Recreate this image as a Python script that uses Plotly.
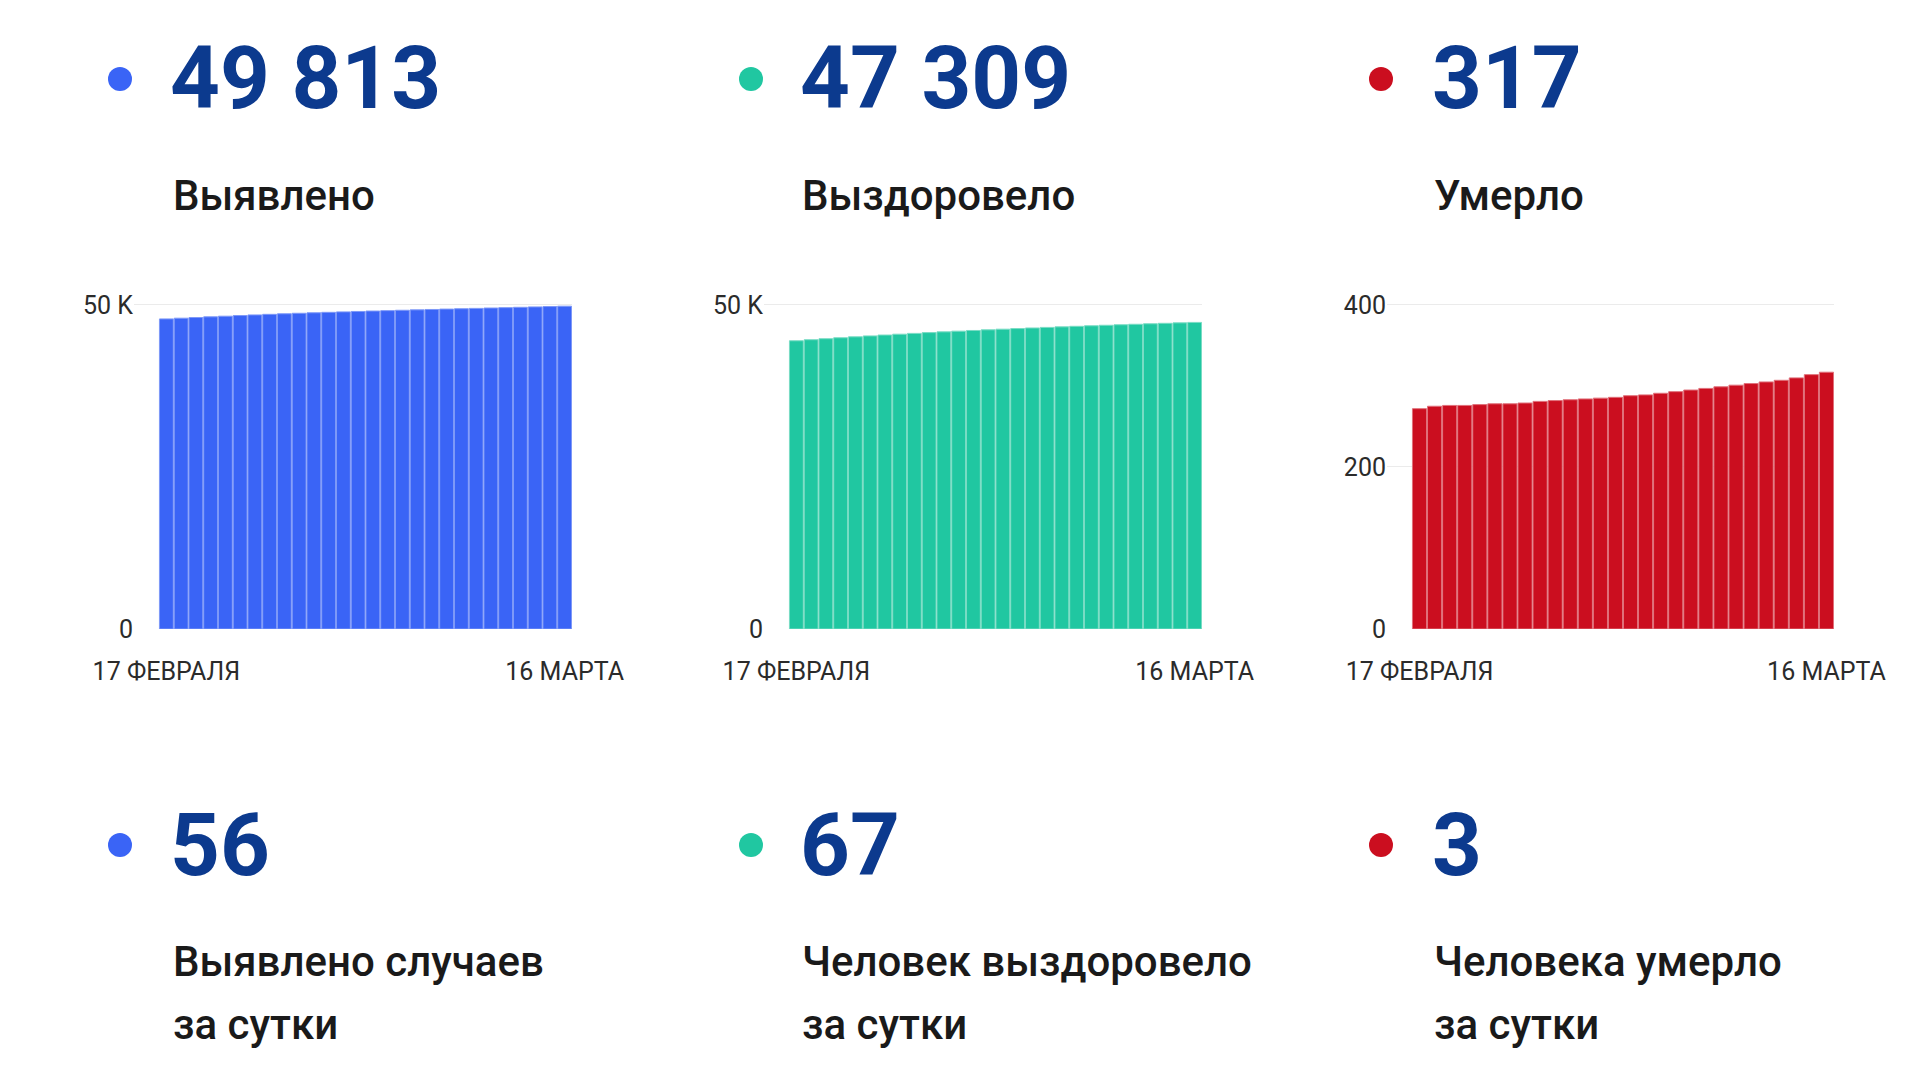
import plotly.graph_objects as go

W, H = 1920, 1080

# ---- data ----
dates = ['17.02', '18.02', '19.02', '20.02', '21.02', '22.02', '23.02', '24.02',
         '25.02', '26.02', '27.02', '28.02', '01.03', '02.03', '03.03', '04.03',
         '05.03', '06.03', '07.03', '08.03', '09.03', '10.03', '11.03', '12.03',
         '13.03', '14.03', '15.03', '16.03']
x_tick_labels = ['17 ФЕВРАЛЯ', '16 МАРТА']

detected = [47850, 47960, 48065, 48170, 48270, 48370, 48465, 48555, 48640, 48720,
            48795, 48865, 48935, 49000, 49065, 49125, 49185, 49245, 49305, 49365,
            49420, 49475, 49530, 49585, 49640, 49700, 49757, 49813]
recovered = [44477, 44637, 44792, 44942, 45087, 45227, 45362, 45492, 45617, 45737,
             45852, 45962, 46067, 46167, 46265, 46360, 46452, 46540, 46626, 46710,
             46792, 46872, 46950, 47026, 47100, 47172, 47242, 47309]
died = [272, 275, 276, 276, 277, 278, 278, 279, 281, 282, 283, 284, 285, 286,
        288, 289, 291, 293, 295, 297, 299, 301, 303, 305, 307, 310, 314, 317]

totals = ['49 813', '47 309', '317']
total_labels = ['Выявлено', 'Выздоровело', 'Умерло']
daily = ['56', '67', '3']
daily_labels = [('Выявлено случаев', 'за сутки'),
                ('Человек выздоровело', 'за сутки'),
                ('Человека умерло', 'за сутки')]

y_tickvals = [[0, 50000], [0, 50000], [0, 200, 400]]
y_ticktext = [['0', '50 K'], ['0', '50 K'], ['0', '200', '400']]
y_ranges = [[0, 51000], [0, 51000], [0, 408]]

# ---- styling / layout geometry (pixels) ----
colors = ['#3a64f6', '#20c7a1', '#cb0e1f']
line_colors = ['#7d98f8', '#79dcc4', '#e0707a']
navy = '#0c3a8e'
FONT = 'Roboto, Arial, sans-serif'

# plot areas: (left, right, bar_left, bar_right)
panels = [(134, 572, 159, 572), (764, 1202, 789, 1202), (1387, 1834, 1412, 1834)]
plot_top, plot_bottom = 298.5, 629
col_num_x = [168, 798, 1430]
col_text_x = [171, 800, 1432]
col_dot_x = [120, 751, 1381]

series = [detected, recovered, died]

fig = go.Figure()
layout_axes = {}
for i, (vals, (pl, pr, bl, br)) in enumerate(zip(series, panels)):
    n = len(dates)
    per = (br - bl) / n
    r0 = -0.5 - (bl - pl) / per
    r1 = n - 0.5 + (pr - br) / per
    xa = 'x' if i == 0 else f'x{i+1}'
    ya = 'y' if i == 0 else f'y{i+1}'
    fig.add_trace(go.Bar(
        x=dates, y=vals, xaxis=xa, yaxis=ya,
        marker=dict(color=colors[i], line=dict(color=line_colors[i], width=1)),
        showlegend=False, hoverinfo='x+y'))
    xkey = 'xaxis' if i == 0 else f'xaxis{i+1}'
    ykey = 'yaxis' if i == 0 else f'yaxis{i+1}'
    layout_axes[xkey] = dict(
        domain=[pl / W, pr / W], anchor=ya, type='category', automargin=False,
        range=[r0, r1], showgrid=False, zeroline=False, showline=False,
        tickmode='array', tickvals=[dates[0], dates[-1]], ticktext=x_tick_labels,
        ticks='outside', ticklen=20, tickcolor='rgba(0,0,0,0)',
        tickfont=dict(family=FONT, size=25, color='#2b2b2b'))
    layout_axes[ykey] = dict(
        domain=[1 - plot_bottom / H, 1 - plot_top / H], anchor=xa, automargin=False,
        range=y_ranges[i], showgrid=True, gridcolor='#ebebeb', gridwidth=1,
        zeroline=False, showline=False,
        tickmode='array', tickvals=y_tickvals[i], ticktext=y_ticktext[i],
        ticks='',
        tickfont=dict(family=FONT, size=25, color='#2b2b2b'))

annotations = []
shapes = []
R = 12
for i in range(3):
    # top row
    annotations.append(dict(x=col_num_x[i] / W, y=1 - 78 / H, xref='paper', yref='paper',
                            xanchor='left', yanchor='middle', showarrow=False,
                            text=totals[i],
                            font=dict(family=FONT, size=87, color=navy, weight=700)))
    annotations.append(dict(x=col_text_x[i] / W, y=1 - 195 / H, xref='paper', yref='paper',
                            xanchor='left', yanchor='middle', showarrow=False,
                            text=total_labels[i],
                            font=dict(family=FONT, size=42, color='#1a1a1a', weight=500)))
    # bottom row
    annotations.append(dict(x=col_num_x[i] / W, y=1 - 845 / H, xref='paper', yref='paper',
                            xanchor='left', yanchor='middle', showarrow=False,
                            text=daily[i],
                            font=dict(family=FONT, size=87, color=navy, weight=700)))
    for j, line in enumerate(daily_labels[i]):
        annotations.append(dict(x=col_text_x[i] / W, y=1 - (961 + 63 * j) / H,
                                xref='paper', yref='paper',
                                xanchor='left', yanchor='middle', showarrow=False,
                                text=line,
                                font=dict(family=FONT, size=42, color='#1a1a1a', weight=500)))
    for cy in (79, 845):
        cx = col_dot_x[i]
        shapes.append(dict(type='circle', xref='paper', yref='paper',
                           x0=(cx - R) / W, x1=(cx + R) / W,
                           y0=1 - (cy + R) / H, y1=1 - (cy - R) / H,
                           fillcolor=colors[i], line=dict(width=0)))

fig.update_layout(
    width=W, height=H, margin=dict(l=0, r=0, t=0, b=0, autoexpand=False),
    paper_bgcolor='white', plot_bgcolor='white',
    bargap=0.06, annotations=annotations, shapes=shapes,
    font=dict(family=FONT), **layout_axes)

fig.write_html('out.html')
